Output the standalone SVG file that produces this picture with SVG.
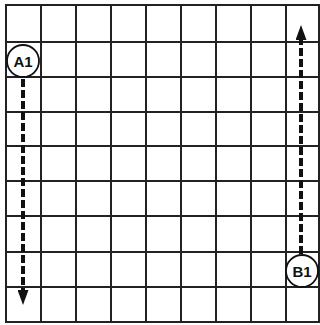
<svg xmlns="http://www.w3.org/2000/svg" width="320" height="325" viewBox="0 0 320 325">
<style>
.g{stroke:#222;stroke-width:2;fill:none}
.c{fill:#fff;stroke:#111;stroke-width:1.8}
.t{font-family:"Liberation Sans",Arial,sans-serif;font-weight:bold;font-size:15px;fill:#111;text-anchor:middle}
.d{stroke:#111;stroke-width:4;stroke-dasharray:8 3;fill:none}
</style>
<defs>
<marker id="ah" viewBox="0 0 15 11" refX="0" refY="5.5" markerWidth="15" markerHeight="11" markerUnits="userSpaceOnUse" orient="auto">
<path d="M0,0 L15,5.5 L0,11 z" fill="#111"/>
</marker>
</defs>
<rect width="320" height="325" fill="#fff"/>
<g id="grid" class="g">
<rect x="6" y="5" width="313" height="317"/>
<path d="M41,5V322M76,5V322M111,5V322M146,5V322M181,5V322M216,5V322M251,5V322M286,5V322"/>
<path d="M6,42H319M6,77H319M6,112H319M6,146H319M6,181H319M6,216H319M6,252H319M6,287H319"/>
</g>
<g id="connectors">
<path class="d" d="M23,79V290" marker-end="url(#ah)"/>
<path class="d" d="M301,254V40" marker-end="url(#ah)"/>
</g>
<g id="A1">
<circle class="c" cx="23" cy="61" r="16"/>
<text class="t" x="23" y="66.5">A1</text>
</g>
<g id="B1">
<circle class="c" cx="302" cy="271" r="16"/>
<text class="t" x="302" y="276.5">B1</text>
</g>
</svg>
